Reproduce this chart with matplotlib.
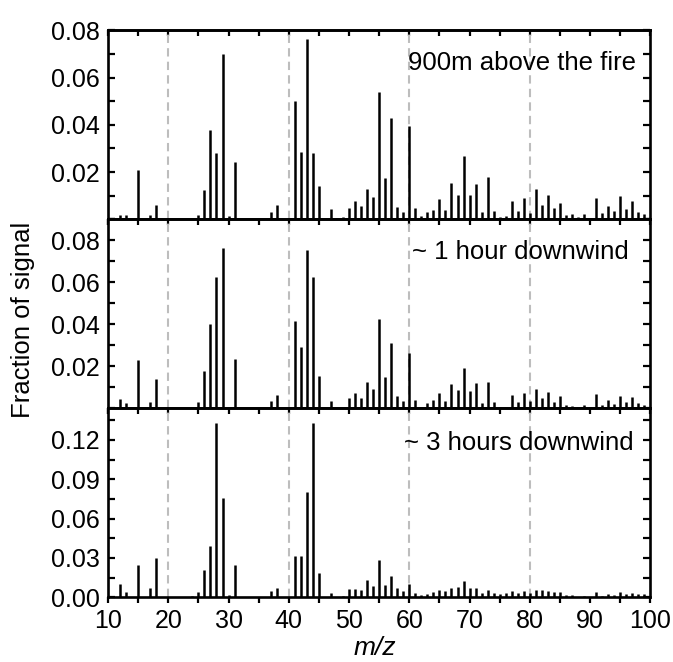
import matplotlib
matplotlib.use("Agg")
import matplotlib.pyplot as plt
from matplotlib.ticker import MultipleLocator

plt.rcParams["font.family"] = ["Liberation Sans", "DejaVu Sans"]

# m/z values that carry signal
mz = [12, 13, 15, 17, 18, 24, 25, 26, 27, 28, 29, 30, 31, 37, 38,
      41, 42, 43, 44, 45, 47, 48, 49] + list(range(50, 100))

frac_900m = [0.0020, 0.0018, 0.0209, 0.0017, 0.0061, 0.0007, 0.0020, 0.0124,
             0.0379, 0.0280, 0.0701, 0.0015, 0.0242, 0.0030, 0.0061,
             0.0499, 0.0284, 0.0763, 0.0280, 0.0141, 0.0043, 0.0007, 0.0008,
             0.0046, 0.0078, 0.0056, 0.0130, 0.0095, 0.0541, 0.0176, 0.0428, 0.0053, 0.0032,
             0.0396, 0.0046, 0.0014, 0.0032, 0.0039, 0.0084, 0.0039, 0.0154, 0.0102, 0.0270,
             0.0105, 0.0148, 0.0029, 0.0179, 0.0035, 0.0011, 0.0014, 0.0078, 0.0035, 0.0092,
             0.0028, 0.0127, 0.0060, 0.0105, 0.0046, 0.0067, 0.0018, 0.0021, 0.0008, 0.0021,
             0.0007, 0.0092, 0.0025, 0.0057, 0.0036, 0.0098, 0.0042, 0.0077, 0.0031, 0.0022]

frac_1h = [0.0046, 0.0024, 0.0230, 0.0030, 0.0138, 0.0000, 0.0030, 0.0178,
           0.0403, 0.0625, 0.0765, 0.0000, 0.0237, 0.0035, 0.0062,
           0.0414, 0.0294, 0.0754, 0.0625, 0.0154, 0.0037, 0.0000, 0.0000,
           0.0048, 0.0071, 0.0051, 0.0125, 0.0092, 0.0427, 0.0148, 0.0313, 0.0059, 0.0035,
           0.0265, 0.0040, 0.0005, 0.0027, 0.0040, 0.0071, 0.0037, 0.0114, 0.0089, 0.0194,
           0.0083, 0.0121, 0.0027, 0.0127, 0.0029, 0.0005, 0.0005, 0.0064, 0.0028, 0.0072,
           0.0033, 0.0092, 0.0050, 0.0079, 0.0030, 0.0058, 0.0014, 0.0013, 0.0005, 0.0014,
           0.0005, 0.0070, 0.0018, 0.0040, 0.0022, 0.0058, 0.0030, 0.0055, 0.0023, 0.0018]

frac_3h = [0.0100, 0.0043, 0.0248, 0.0069, 0.0299, 0.0010, 0.0038, 0.0210,
           0.0389, 0.1330, 0.0754, 0.0018, 0.0248, 0.0049, 0.0069,
           0.0312, 0.0317, 0.0803, 0.1330, 0.0189, 0.0030, 0.0000, 0.0010,
           0.0060, 0.0065, 0.0053, 0.0129, 0.0088, 0.0285, 0.0095, 0.0159, 0.0072, 0.0048,
           0.0105, 0.0034, 0.0018, 0.0029, 0.0043, 0.0053, 0.0046, 0.0074, 0.0076, 0.0124,
           0.0074, 0.0071, 0.0036, 0.0059, 0.0034, 0.0022, 0.0031, 0.0048, 0.0031, 0.0051,
           0.0033, 0.0057, 0.0054, 0.0048, 0.0040, 0.0040, 0.0018, 0.0020, 0.0005, 0.0013,
           0.0004, 0.0039, 0.0013, 0.0027, 0.0018, 0.0039, 0.0026, 0.0036, 0.0029, 0.0026]

labels = ["900m above the fire", "~ 1 hour downwind", "~ 3 hours downwind"]
ylims = [0.080, 0.090, 0.144]
ymajor = [0.02, 0.02, 0.03]
guide_lines = [20, 40, 60, 80]

fig = plt.figure(figsize=(6.73, 6.62), dpi=100)

left, width = 0.1605, 0.8058
panel_h = 0.2855
bottoms = [0.0977 + 2 * panel_h, 0.0977 + panel_h, 0.0977]
label_pos = [(0.974, 0.829), (0.961, 0.827), (0.970, 0.819)]

series = [frac_900m, frac_1h, frac_3h]

for i, vals in enumerate(series):
    ax = fig.add_axes([left, bottoms[i], width, panel_h])
    for g in guide_lines:
        ax.axvline(g, color="#bdbdbd", lw=1.5, ls=(0, (4, 2.5)), zorder=1)
    ax.vlines(mz, 0, vals, color="black", lw=1.8, zorder=2)

    ax.set_xlim(10, 100)
    ax.set_ylim(0, ylims[i])
    ax.xaxis.set_major_locator(MultipleLocator(10))
    ax.xaxis.set_minor_locator(MultipleLocator(5))
    ax.yaxis.set_major_locator(MultipleLocator(ymajor[i]))
    ax.yaxis.set_minor_locator(MultipleLocator(ymajor[i] / 2))

    if i < 2:
        ax.set_yticks([0.02, 0.04, 0.06, 0.08])
        ax.set_yticklabels(["0.02", "0.04", "0.06", "0.08"])
        ax.tick_params(axis="x", labelbottom=False)
    else:
        ax.set_yticks([0.0, 0.03, 0.06, 0.09, 0.12])
        ax.set_yticklabels(["0.00", "0.03", "0.06", "0.09", "0.12"])
        ax.set_xticks(range(10, 101, 10))

    for s in ax.spines.values():
        s.set_linewidth(1.9)

    ax.tick_params(axis="x", which="both", bottom=True, top=False,
                   direction="out", length=4.5, width=1.6,
                   labelsize=18, pad=4)
    ax.tick_params(axis="y", which="both", left=True, right=True,
                   direction="in", length=5, width=1.6,
                   labelsize=18, pad=6)
    # inward ticks along the top edge
    top = ax.secondary_xaxis("top")
    top.xaxis.set_major_locator(MultipleLocator(5))
    top.tick_params(direction="in", length=4.5, width=1.6, labeltop=False)
    top.spines["top"].set_linewidth(1.9)

    ax.text(label_pos[i][0], label_pos[i][1], labels[i], transform=ax.transAxes,
            ha="right", va="center", fontsize=18.5)

fig.text(23 / 673, 1 - 320 / 662, "Fraction of signal", rotation=90,
         ha="center", va="center", fontsize=18.5)
fig.text(375 / 673, 7 / 662, "m/z", style="italic",
         ha="center", va="baseline", fontsize=19)

fig.savefig("out.png", dpi=100)
